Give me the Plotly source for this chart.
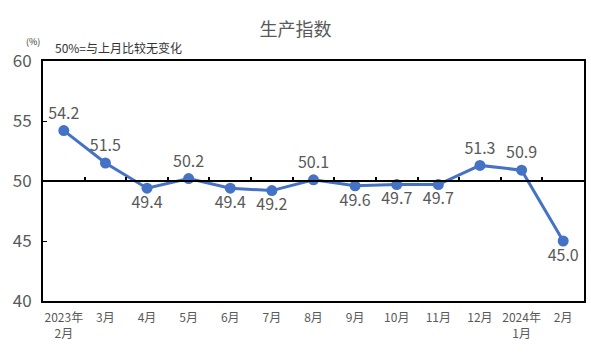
import plotly.graph_objects as go

categories = ["2023年<br>2月", "3月", "4月", "5月", "6月", "7月", "8月", "9月", "10月", "11月", "12月", "2024年<br>1月", "2月"]
values = [54.2, 51.5, 49.4, 50.2, 49.4, 49.2, 50.1, 49.6, 49.7, 49.7, 51.3, 50.9, 45.0]
label_pos = ["top center", "top center", "bottom center", "top center", "bottom center", "bottom center",
             "top center", "bottom center", "bottom center", "bottom center", "top center", "top center", "bottom center"]
yticks = [40, 45, 50, 55, 60]

x = list(range(len(categories)))
font = "Noto Sans CJK SC, Noto Sans, sans-serif"
gray = "#595959"

fig = go.Figure()
fig.add_trace(go.Scatter(
    x=x, y=values, mode="lines+markers+text",
    line=dict(color="#4472C4", width=3),
    marker=dict(color="#4472C4", size=11),
    text=[f"{v:.1f}" for v in values], textposition=label_pos,
    textfont=dict(size=16, color=gray, family=font),
    cliponaxis=False, showlegend=False,
))
# baseline axis at 50 (category boundary ticks)
fig.add_trace(go.Scatter(x=[-0.5, 12.5], y=[50, 50], mode="lines",
                         line=dict(color="black", width=2), showlegend=False,
                         hoverinfo="skip", xaxis="x2"))

pw, ph = 591 - 43 - 5, 354 - 61 - 53
def px(xp):
    return (xp - 43) / pw
def py(yp):
    return (354 - 53 - yp) / ph

fig.update_layout(
    width=591, height=354,
    margin=dict(l=43, r=5, t=61, b=53),
    plot_bgcolor="white", paper_bgcolor="white",
    title=dict(text="生产指数", x=0.5, xanchor="center", y=0.915, yanchor="middle",
               font=dict(size=18, color=gray, family=font)),
    xaxis=dict(range=[-0.5, 12.5], tickmode="array", tickvals=x, ticktext=categories,
               tickfont=dict(size=12, color=gray, family=font), showgrid=False, zeroline=False,
               showline=True, linecolor="black", linewidth=2, mirror=True, ticks="",
               ticklabelstandoff=5),
    xaxis2=dict(range=[-0.5, 12.5], overlaying="x", anchor="free", position=0.5, side="bottom",
                tickmode="array", tickvals=[i + 0.5 for i in range(12)], ticks="inside",
                ticklen=4, tickwidth=1.5, tickcolor="black", showticklabels=False,
                showgrid=False, zeroline=False, showline=False),
    yaxis=dict(range=[40, 60], tickmode="array", tickvals=yticks, ticks="inside", ticklen=4,
               tickcolor="black", tickfont=dict(size=17, color=gray, family=font),
               showgrid=False, zeroline=False, showline=True, linecolor="black",
               linewidth=2, mirror=True, ticklabelstandoff=6),
    annotations=[
        dict(text="(%)", x=px(33), y=py(41), xref="paper", yref="paper", showarrow=False,
             xanchor="center", yanchor="middle",
             font=dict(size=9, color="#333333", family=font)),
        dict(text="50%=与上月比较无变化", x=px(53), y=py(47), xref="paper", yref="paper",
             xanchor="left", yanchor="middle", showarrow=False,
             font=dict(size=12, color="#333333", family=font)),
    ],
)

fig.write_html("out.html")
